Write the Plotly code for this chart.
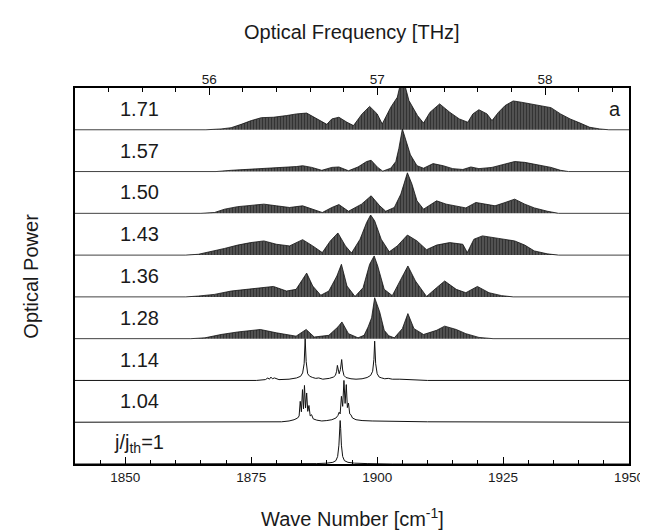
import plotly.graph_objects as go

# ---------------- data ----------------
WN_MIN, WN_MAX = 1840, 1950          # wave number axis [cm^-1]
THZ_PER_WN = 0.03                    # optical frequency per wave number [THz / cm^-1]

wn_ticks = [1850, 1875, 1900, 1925, 1950]
thz_ticks = [56, 57, 58]

labels = ["1.71", "1.57", "1.50", "1.43", "1.36", "1.28", "1.14", "1.04",
          "j/j<sub>th</sub>=1"]

# upper envelopes of the multimode spectra (in units of one panel height)
nu_171 = [1840, 1866, 1869, 1871, 1873, 1875, 1877, 1879.4, 1882, 1884, 1886, 1888, 1890, 1891,
          1892.4, 1894, 1895.3, 1897, 1898.5, 1900, 1901, 1902.7, 1904, 1905, 1906.3, 1908,
          1909.2, 1910.5, 1912.4, 1914.4, 1916.3, 1918, 1919, 1920.2, 1921.8, 1922.8, 1924.1,
          1925.4, 1927, 1928.6, 1930.6, 1932.5, 1934.5, 1936.4, 1938.3, 1940.3, 1942.2, 1944.2,
          1946, 1950]
p_171 = [0, 0, 0.02, 0.05, 0.13, 0.22, 0.29, 0.30, 0.34, 0.38, 0.40, 0.26, 0.13, 0.26,
         0.30, 0.18, 0.10, 0.38, 0.56, 0.38, 0.14, 0.54, 0.78, 1.30, 0.70, 0.34,
         0.16, 0.42, 0.62, 0.42, 0.26, 0.18, 0.38, 0.48, 0.38, 0.22, 0.42,
         0.58, 0.69, 0.66, 0.62, 0.58, 0.53, 0.38, 0.26, 0.16, 0.06, 0.02,
         0, 0]

nu_157 = [1840, 1868, 1871, 1874, 1877.5, 1880.7, 1884, 1885.2, 1887, 1889, 1891, 1892.4, 1894.3,
          1896.2, 1897.9, 1898.8, 1900.1, 1901.1, 1902.7, 1903.7, 1904.3, 1905, 1905.6, 1906.6,
          1907.9, 1909.2, 1911.1, 1913.1, 1915, 1917, 1918.6, 1920.2, 1922.8, 1925.4, 1927.3,
          1929.3, 1931.9, 1934.5, 1936.4, 1938, 1950]
p_157 = [0, 0, 0.03, 0.05, 0.07, 0.10, 0.12, 0.14, 0.10, 0.03, 0.10, 0.11, 0.02,
         0.11, 0.24, 0.27, 0.10, 0.01, 0.08, 0.24, 0.55, 1.02, 0.78, 0.40,
         0.14, 0.08, 0.19, 0.14, 0.07, 0.05, 0.11, 0.07, 0.10, 0.19, 0.24,
         0.22, 0.16, 0.10, 0.03, 0, 0]

nu_150 = [1840, 1865, 1867.7, 1869.7, 1872.3, 1876.2, 1877.5, 1880, 1882.6, 1885.2, 1887.2, 1889.1,
          1891, 1892.4, 1894.3, 1896.9, 1898.8, 1900.5, 1901.7, 1903.4, 1904.7, 1906, 1906.9,
          1907.9, 1909.2, 1911.8, 1913.7, 1916.3, 1917.6, 1919.6, 1921.5, 1923.4, 1925.4, 1927.3,
          1929.3, 1931.2, 1933.8, 1936, 1950]
p_150 = [0, 0, 0.02, 0.10, 0.16, 0.21, 0.22, 0.18, 0.14, 0.18, 0.10, 0.02,
         0.14, 0.21, 0.05, 0.22, 0.42, 0.18, 0.05, 0.14, 0.46, 0.97, 0.70,
         0.30, 0.10, 0.30, 0.22, 0.16, 0.13, 0.26, 0.22, 0.18, 0.26, 0.34,
         0.22, 0.13, 0.05, 0, 0]

nu_143 = [1840, 1862, 1864.5, 1867.7, 1869.7, 1872.3, 1874.9, 1877.5, 1880, 1882.6, 1885.2, 1887.2,
          1889.1, 1890.7, 1892.2, 1893.7, 1894.9, 1896.6, 1897.9, 1898.7, 1899.5, 1900.8, 1902.4,
          1904, 1906, 1907.9, 1909.8, 1911.8, 1914.4, 1917, 1917.9, 1919.2, 1920.9, 1924.1,
          1927.3, 1929.3, 1931.2, 1933.8, 1936, 1950]
p_143 = [0, 0, 0.02, 0.10, 0.16, 0.24, 0.30, 0.34, 0.26, 0.22, 0.37, 0.22,
         0.06, 0.34, 0.53, 0.22, 0.05, 0.38, 0.78, 0.96, 0.82, 0.38, 0.08,
         0.22, 0.48, 0.34, 0.13, 0.24, 0.30, 0.26, 0.06, 0.38, 0.46, 0.40,
         0.34, 0.24, 0.10, 0.03, 0, 0]

nu_136 = [1840, 1862, 1864.5, 1867.7, 1871, 1874.2, 1877.5, 1879.4, 1882, 1883.9, 1885.2, 1886,
          1887.2, 1888.8, 1890.4, 1892, 1892.9, 1894, 1895.6, 1897.2, 1898.5, 1899.4, 1900.1,
          1901.4, 1903, 1904.7, 1906.1, 1907.6, 1909.8, 1911.8, 1913.4, 1915.7, 1917.6, 1919.9,
          1922.2, 1924.7, 1927, 1950]
p_136 = [0, 0, 0.02, 0.06, 0.14, 0.18, 0.22, 0.25, 0.14, 0.18, 0.42, 0.57,
         0.26, 0.04, 0.14, 0.50, 0.78, 0.26, 0.01, 0.22, 0.78, 0.98, 0.74,
         0.18, 0.03, 0.42, 0.74, 0.38, 0.01, 0.22, 0.38, 0.18, 0.10, 0.25,
         0.10, 0.03, 0, 0]

nu_128 = [1840, 1863, 1865.8, 1869, 1872.3, 1876.8, 1880, 1883.9, 1885.9, 1887.5, 1890.4, 1892.2,
          1893, 1894.3, 1896.2, 1897.4, 1898.2, 1898.9, 1899.5, 1900.0, 1900.5, 1901.4, 1902.3,
          1903.4, 1905, 1906.1, 1907.3, 1909.2, 1911.8, 1913.4, 1915.7, 1917.6, 1920.2, 1923, 1950]
p_128 = [0, 0, 0.02, 0.10, 0.16, 0.22, 0.14, 0.06, 0.22, 0.04, 0.08, 0.28,
         0.40, 0.12, 0.02, 0.08, 0.28, 0.50, 0.98, 0.80, 0.64, 0.20, 0.07,
         0.02, 0.24, 0.60, 0.24, 0.10, 0.20, 0.30, 0.22, 0.12, 0.03, 0, 0]

# few-mode spectra sampled point by point
nu_114 = [1840, 1876, 1877.8, 1878.3, 1878.6, 1878.9, 1879.2, 1879.6, 1880.5, 1882.5, 1884.0,
          1884.8, 1885.2, 1885.5, 1885.7, 1885.9, 1886.2, 1886.6, 1887.2, 1887.8, 1888.4, 1889.2,
          1890.5, 1891.3, 1891.7, 1891.95, 1892.1, 1892.25, 1892.45, 1892.7, 1892.95, 1893.15,
          1893.4, 1893.8, 1894.8, 1895.8, 1897.0, 1898.0, 1898.7, 1899.1, 1899.35, 1899.5,
          1899.7, 1900.0, 1900.4, 1900.9, 1901.5, 1902.2, 1903.0, 1904.5, 1906.5, 1910, 1950]
p_114 = [0, 0, 0.02, 0.06, 0.03, 0.08, 0.04, 0.06, 0.02, 0.03, 0.06,
         0.10, 0.18, 0.40, 1.0, 0.45, 0.16, 0.10, 0.07, 0.05, 0.06, 0.03,
         0.05, 0.08, 0.12, 0.22, 0.36, 0.22, 0.16, 0.26, 0.50, 0.25,
         0.12, 0.07, 0.04, 0.03, 0.04, 0.07, 0.12, 0.22, 0.50, 0.94,
         0.40, 0.16, 0.08, 0.06, 0.04, 0.05, 0.03, 0.03, 0.02, 0, 0]

nu_104 = [1840, 1878, 1881, 1882.5, 1883.5, 1884.2, 1884.5, 1884.72, 1884.95, 1885.17, 1885.37,
          1885.56, 1885.78, 1886.0, 1886.22, 1886.45, 1886.7, 1886.97, 1887.3, 1888, 1889, 1890,
          1891, 1891.8, 1892.2, 1892.45, 1892.65, 1892.9, 1893.15, 1893.4, 1893.63, 1893.87,
          1894.08, 1894.3, 1894.55, 1894.77, 1895.1, 1895.8, 1897, 1899, 1903, 1910, 1950]
p_104 = [0, 0, 0.01, 0.03, 0.06, 0.10, 0.15, 0.50, 0.25, 0.78, 0.32,
         0.88, 0.34, 0.70, 0.26, 0.40, 0.15, 0.18, 0.08, 0.05, 0.03, 0.04,
         0.06, 0.10, 0.16, 0.24, 0.20, 0.62, 0.38, 1.0, 0.45, 0.90,
         0.35, 0.46, 0.20, 0.18, 0.10, 0.06, 0.04, 0.03, 0.02, 0.01, 0]

nu_100 = [1840, 1885, 1888, 1890, 1891.2, 1891.8, 1892.15, 1892.4, 1892.55, 1892.65, 1892.75,
          1892.9, 1893.15, 1893.5, 1894.2, 1895.5, 1898, 1903, 1950]
p_100 = [0, 0, 0.01, 0.02, 0.04, 0.08, 0.18, 0.45, 0.85, 1.04, 0.85,
         0.45, 0.18, 0.08, 0.04, 0.02, 0.01, 0, 0]

spectra_nu = [nu_171, nu_157, nu_150, nu_143, nu_136, nu_128, nu_114, nu_104, nu_100]
spectra_p = [p_171, p_157, p_150, p_143, p_136, p_128, p_114, p_104, p_100]

# ---------------- figure ----------------
FONT = "Liberation Sans, Arial, Helvetica, sans-serif"
INK = "#1a1a1a"
n = len(labels)
n_band = 6  # the upper six spectra are dense multimode spectra

fig = go.Figure()
for i, (nu, p) in enumerate(zip(spectra_nu, spectra_p)):
    base = n - 1 - i
    y = [base + v for v in p]
    if i < n_band:
        fig.add_trace(go.Scatter(
            x=nu, y=y, mode="lines", fill="toself",
            line=dict(color="#111", width=0.8),
            fillcolor="rgba(30,30,30,0.8)",
            fillpattern=dict(shape="|", size=3, solidity=0.6,
                             fgcolor="#000000", bgcolor="rgba(75,75,75,0.85)"),
            hoverinfo="skip", showlegend=False))
    else:
        fig.add_trace(go.Scatter(
            x=nu, y=y, mode="lines", line=dict(color="#111", width=1),
            hoverinfo="skip", showlegend=False))

# invisible trace to carry the top (frequency) axis
fig.add_trace(go.Scatter(x=[WN_MIN * THZ_PER_WN, WN_MAX * THZ_PER_WN], y=[0, 0],
                         xaxis="x2", mode="lines", line=dict(width=0),
                         hoverinfo="skip", showlegend=False))

for i, lab in enumerate(labels):
    fig.add_annotation(x=1852.8, y=n - 1 - i + 0.5, xref="x", yref="y", text=lab,
                       showarrow=False, xanchor="center", yanchor="middle",
                       font=dict(family=FONT, size=20, color=INK))
fig.add_annotation(x=1947.2, y=n - 0.5, xref="x", yref="y", text="a", showarrow=False,
                   xanchor="center", yanchor="middle", font=dict(family=FONT, size=20, color=INK))

fig.add_annotation(x=0.5, y=1.149, xref="paper", yref="paper", text="Optical Frequency [THz]",
                   showarrow=False, xanchor="center", yanchor="middle",
                   font=dict(family=FONT, size=20, color=INK))
fig.add_annotation(x=0.5, y=-0.142, xref="paper", yref="paper",
                   text="Wave Number [cm<sup>-1</sup>]",
                   showarrow=False, xanchor="center", yanchor="middle",
                   font=dict(family=FONT, size=20, color=INK))
fig.add_annotation(x=-0.08, y=0.5, xref="paper", yref="paper", text="Optical Power",
                   showarrow=False, textangle=-90, xanchor="center", yanchor="middle",
                   font=dict(family=FONT, size=20, color=INK))

fig.update_layout(
    width=648, height=531,
    margin=dict(l=67, r=17, t=80, b=75),
    paper_bgcolor="white", plot_bgcolor="white",
    showlegend=False,
    xaxis=dict(range=[WN_MIN, WN_MAX], tickvals=wn_ticks, ticks="inside", ticklen=7,
               tickwidth=1.2, tickcolor="#000", showline=True, linecolor="#000", linewidth=1.5,
               mirror=True, showgrid=False, zeroline=False, ticklabeloverflow="allow",
               layer="above traces",
               minor=dict(dtick=5, tick0=1850, ticks="inside", ticklen=4, tickwidth=1,
                          tickcolor="#000"),
               tickfont=dict(family=FONT, size=13.5, color=INK)),
    xaxis2=dict(range=[WN_MIN * THZ_PER_WN, WN_MAX * THZ_PER_WN], overlaying="x", side="top",
                anchor="y", tickvals=thz_ticks, ticks="inside", ticklen=7, tickwidth=1.2,
                tickcolor="#000", showline=False, showgrid=False, zeroline=False,
                layer="above traces",
                minor=dict(dtick=0.2, tick0=56, ticks="inside", ticklen=4, tickwidth=1,
                           tickcolor="#000"),
                tickfont=dict(family=FONT, size=13.5, color=INK)),
    yaxis=dict(range=[0, n], showticklabels=False, ticks="", showgrid=False,
               zeroline=False, showline=True, linecolor="#000", linewidth=1.5, mirror=True),
)

fig.write_html("out.html")
